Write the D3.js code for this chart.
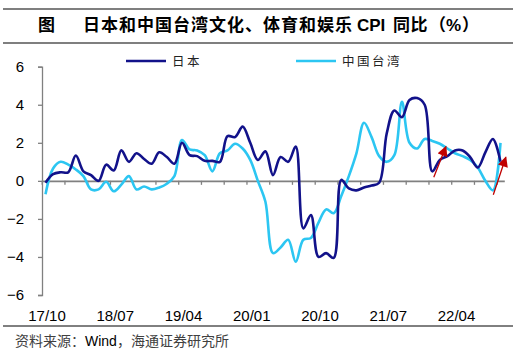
<!DOCTYPE html>
<html><head><meta charset="utf-8">
<script src="https://cdn.jsdelivr.net/npm/d3@7"></script>
<style>body{margin:0;background:#fff;} svg{display:block;}</style>
</head><body>
<script>
const categories = ["17/10","17/11","17/12","18/01","18/02","18/03","18/04","18/05","18/06","18/07","18/08","18/09","18/10","18/11","18/12",
"19/01","19/02","19/03","19/04","19/05","19/06","19/07","19/08","19/09","19/10","19/11","19/12",
"20/01","20/02","20/03","20/04","20/05","20/06","20/07","20/08","20/09","20/10","20/11","20/12",
"21/01","21/02","21/03","21/04","21/05","21/06","21/07","21/08","21/09","21/10","21/11","21/12",
"22/01","22/02","22/03","22/04","22/05","22/06","22/07","22/08","22/09","22/10"];
const japan = [-0.1,0.35,0.45,0.45,1.33,0.5,0.3,0.0,0.85,0.55,1.6,1.0,1.45,1.15,0.9,
1.5,1.25,0.9,2.0,1.35,1.3,1.05,1.05,1.0,2.35,2.3,2.85,
2.0,1.1,1.55,0.3,1.25,1.0,1.8,-2.5,-1.8,-4.0,-3.8,-4.05,
0.05,-0.4,-0.5,-0.35,-0.25,-0.1,2.5,3.7,3.35,4.25,4.35,4.0,
0.5,1.1,1.3,1.6,1.6,1.25,0.7,1.5,2.2,1.0];
const taiwan = [-0.7,0.65,1.0,0.85,0.6,0.25,-0.45,-0.45,-0.05,-0.55,-0.2,0.25,-0.45,-0.3,-0.45,
-0.35,-0.15,0.25,2.15,1.65,1.6,1.35,0.5,1.45,1.6,1.95,1.7,
1.1,0.0,-1.1,-3.8,-3.5,-3.1,-4.25,-3.1,-3.0,-2.2,-1.5,-1.7,
-0.8,0.25,1.45,3.05,2.3,1.3,1.0,1.35,4.15,2.0,1.7,2.2,
2.1,1.95,1.7,1.45,1.3,1.1,0.7,0.0,-0.5,2.0];
const xTickLabels = ["17/10","18/07","19/04","20/01","20/10","21/07","22/04"];
const yTicks = [-6,-4,-2,0,2,4,6];
const seriesNames = ["日本","中国台湾"];
// arrow annotations: [fromIndex, fromValue, toIndex, toValue]
const arrows = [[51.2,0.19,52.8,1.8],[59.05,-0.73,60.7,1.24]];

const W = 521, H = 357;
const svg = d3.select("body").append("svg").attr("width", W).attr("height", H);

// header rules and title
svg.append("line").attr("x1",3).attr("x2",513).attr("y1",9).attr("y2",9).attr("stroke","#7f7f7f").attr("stroke-width",2);
svg.append("line").attr("x1",3).attr("x2",513).attr("y1",43).attr("y2",43).attr("stroke","#7f7f7f").attr("stroke-width",2);
svg.append("line").attr("x1",3).attr("x2",513).attr("y1",326).attr("y2",326).attr("stroke","#000").attr("stroke-width",1);

const title = svg.append("text").attr("y",30.5).attr("font-size",17).attr("font-weight","bold")
  .attr("font-family","'Noto Sans CJK SC',sans-serif").attr("fill","#000");
title.append("tspan").attr("x",38).text("图");
title.append("tspan").attr("x",83).attr("letter-spacing",1).text("日本和中国台湾文化、体育和娱乐");
title.append("tspan").attr("x",357).attr("font-family","'Liberation Sans',Arial,sans-serif").text("CPI");
title.append("tspan").attr("x",393).attr("letter-spacing",0.5).text("同比");
title.append("tspan").attr("x",429).text("（");
title.append("tspan").attr("x",446).attr("font-family","'Liberation Sans',Arial,sans-serif").text("%");
title.append("tspan").attr("x",462).text("）");

const src = svg.append("text").attr("x",15).attr("y",346).attr("font-size",14)
  .attr("font-family","'Noto Sans CJK SC',sans-serif").attr("fill","#404040");
src.append("tspan").text("资料来源：");
src.append("tspan").attr("font-family","'Liberation Sans',Arial,sans-serif").attr("fill","#000").text("Wind");
src.append("tspan").text("，海通证券研究所");

// scales
const x = d3.scaleLinear().domain([-0.5, categories.length - 0.5]).range([41.7, 504.3]);
const y = d3.scaleLinear().domain([-6, 6]).range([295, 66.7]);

// y axis
const yAxis = d3.axisLeft(y).tickValues(yTicks).tickSize(4).tickPadding(14).tickFormat(d3.format("d"));
const gy = svg.append("g").attr("transform","translate(42,0)").call(yAxis);
gy.select(".domain").attr("stroke","#808080").attr("stroke-width",1.3);
gy.selectAll(".tick line").attr("stroke","#808080").attr("stroke-width",1.3);
gy.selectAll(".tick text").attr("font-size",15).attr("font-family","'Liberation Sans',Arial,sans-serif").attr("fill","#000");

// x axis at zero
const tickPos = d3.range(-0.5, categories.length - 0.5, 3);
const xAxis = d3.axisBottom(x).tickValues(tickPos).tickSize(4).tickFormat("").tickSizeOuter(0);
const gx = svg.append("g").attr("transform",`translate(0,${y(0)})`).call(xAxis);
gx.select(".domain").attr("stroke","#808080").attr("stroke-width",1.6);
gx.selectAll(".tick line").attr("stroke","#808080").attr("stroke-width",1.3);

// x labels
svg.append("g").selectAll("text").data(xTickLabels).join("text")
  .attr("x", d => x(categories.indexOf(d)) + 1.5)
  .attr("y", 321)
  .attr("text-anchor","middle")
  .attr("font-size",15).attr("font-family","'Liberation Sans',Arial,sans-serif").attr("fill","#000")
  .text(d => d);

// lines
const line = d3.line().x((d,i) => x(i)).y(d => y(d)).curve(d3.curveCatmullRom.alpha(0.5));
svg.append("path").datum(taiwan).attr("d", line).attr("fill","none").attr("stroke","#2cc6f2").attr("stroke-width",2.6);
svg.append("path").datum(japan).attr("d", line).attr("fill","none").attr("stroke","#12128a").attr("stroke-width",2.6);

// arrows
svg.append("defs").append("marker").attr("id","ah").attr("viewBox","0 0 10 10").attr("refX",9).attr("refY",5)
  .attr("markerWidth",9.5).attr("markerHeight",8).attr("orient","auto")
  .append("path").attr("d","M0,0L10,5L0,10z").attr("fill","#c00000");
svg.append("g").selectAll("line").data(arrows).join("line")
  .attr("x1", d => x(d[0])).attr("y1", d => y(d[1]))
  .attr("x2", d => x(d[2])).attr("y2", d => y(d[3]))
  .attr("stroke","#c00000").attr("stroke-width",1.3).attr("marker-end","url(#ah)");

// legend
const legend = svg.append("g");
const legX = [126, 296];
const colors = ["#12128a","#2cc6f2"];
seriesNames.forEach((n,k) => {
  legend.append("line").attr("x1",legX[k]).attr("x2",legX[k]+40).attr("y1",61).attr("y2",61)
    .attr("stroke",colors[k]).attr("stroke-width",2.6);
  legend.append("text").attr("x",legX[k]+46).attr("y",66).attr("font-size",12.5).attr("letter-spacing",2.5)
    .attr("font-family","'Noto Sans CJK SC',sans-serif").attr("fill","#222").text(n);
});
</script>
</body></html>
